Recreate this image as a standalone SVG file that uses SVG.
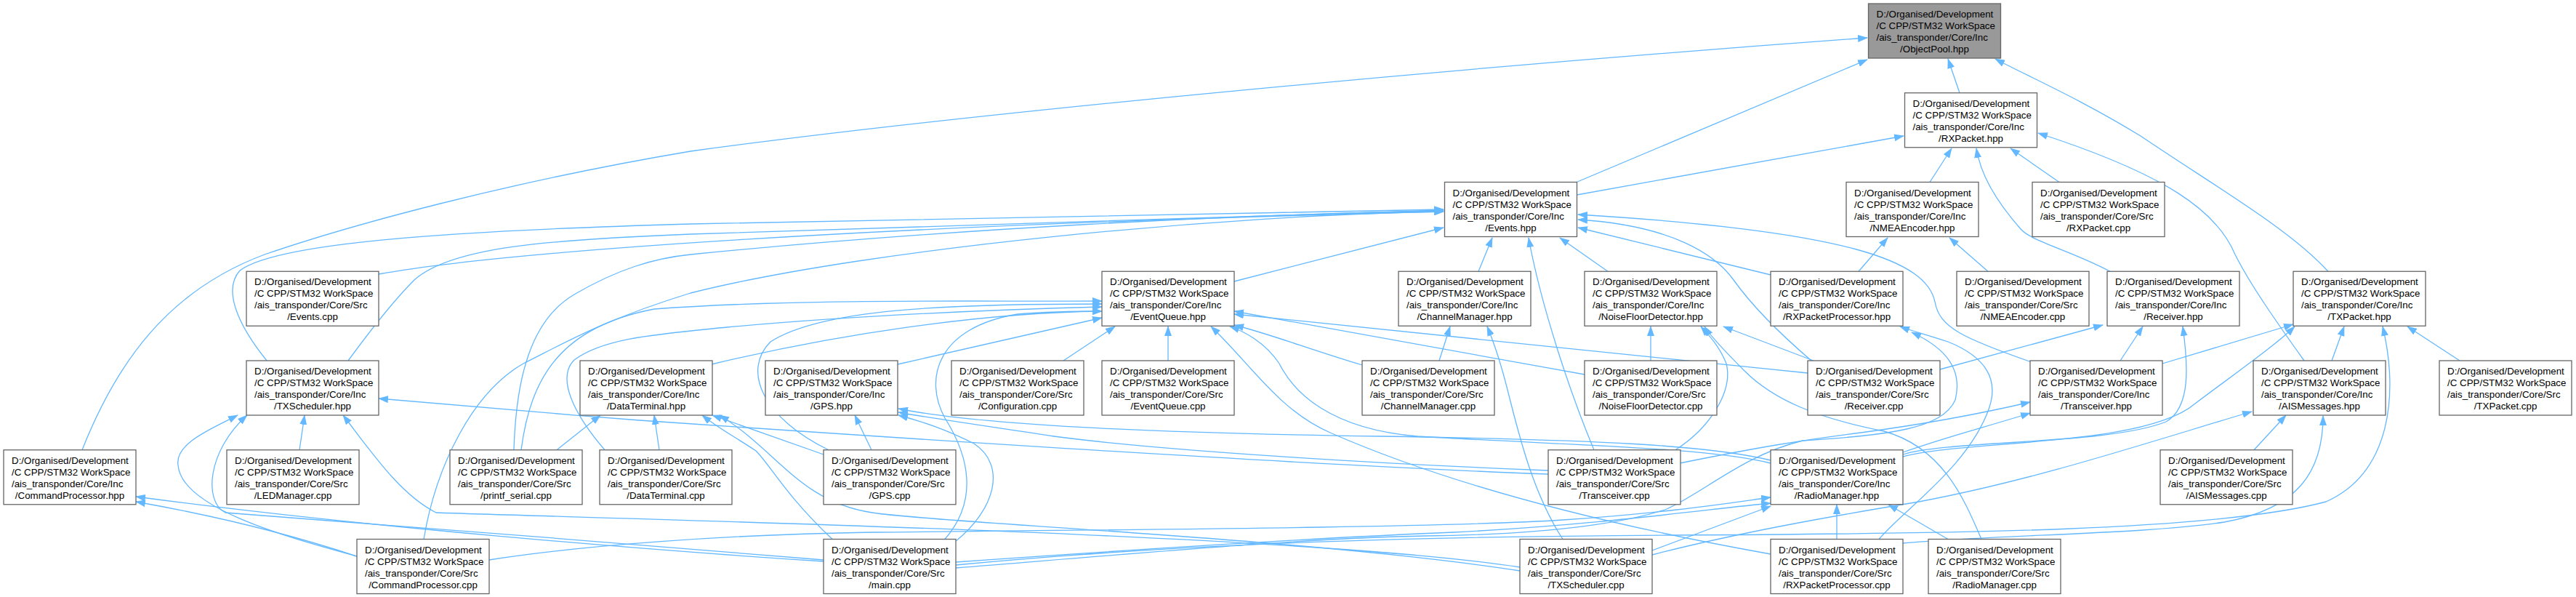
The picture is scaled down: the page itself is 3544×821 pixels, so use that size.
<svg xmlns="http://www.w3.org/2000/svg" width="3544" height="821" viewBox="0 0 3544 821">
<style>
.node rect{fill:#fff;stroke:#666;stroke-width:1.3}
.hl rect{fill:#999}
.node text{font-family:"Liberation Sans",Arial,sans-serif;font-size:13.33px;fill:#000}
.c{text-anchor:middle}
#edges path{fill:none;stroke:#63b8ff;stroke-width:1.3;marker-end:url(#ah)}
</style>
<defs>
<marker id="ah" viewBox="0 0 14 10" refX="13" refY="5" markerWidth="14" markerHeight="10" orient="auto" markerUnits="userSpaceOnUse"><path d="M0,0 L14,5 L0,10 z" fill="#63b8ff" stroke="none"/></marker>
</defs>
<rect width="3544" height="821" fill="#fff"/>
<g id="edges">
<path d="M2696,127.75 L2680,81"/>
<path d="M2169,250.5 L2569,82"/>
<path d="M113,618.75 C160,500 230,400 364,350 C480,310 700,250 950,208 C1300,160 1950,97 2569,52"/>
<path d="M3203,373.25 C3150,315 3050,258 2945,187 C2860,135 2790,105 2745,81"/>
<path d="M2169.5,268 L2619,187"/>
<path d="M2655,250.5 L2685,204"/>
<path d="M2833,250.5 L2766,204"/>
<path d="M2903,373.25 C2850,345 2795,332 2780,315 C2745,275 2725,240 2719,204"/>
<path d="M3170,496 C3130,440 3095,390 3075,350 C3050,290 2980,240 2804,183"/>
<path d="M2735,373.25 L2682,327"/>
<path d="M2557,373.25 L2597,327"/>
<path d="M521,377 C700,345 1200,310 1986,291"/>
<path d="M367,496 C330,450 305,400 330,372 C380,335 600,318 950,308 C1400,297 1800,290 1986,288"/>
<path d="M479,496 C520,440 545,410 570,385 C620,340 750,330 950,322 C1400,305 1800,292 1986,289"/>
<path d="M707,618.75 C710,520 730,440 790,405 C850,370 900,355 950,350 C1300,315 1700,295 1986,290"/>
<path d="M583,741.5 C600,640 650,540 720,500 C780,470 830,440 950,403 C1200,340 1700,295 1986,291"/>
<path d="M1698,387 L1986,313"/>
<path d="M2034,373.25 L2053,327"/>
<path d="M2193,618.75 C2160,540 2120,420 2103,327"/>
<path d="M2212,373.25 L2146,327"/>
<path d="M2436,378 L2171,313"/>
<path d="M2492,496 C2450,460 2410,420 2385,385 C2360,350 2300,310 2171,302"/>
<path d="M2795,498 C2700,465 2668,450 2662,415 C2650,360 2550,318 2171,295"/>
<path d="M2669,508 L2893,447"/>
<path d="M2917,496 L2948,449"/>
<path d="M2618,625 C2680,605 2900,612 2980,580 C3015,560 3010,500 3003,449"/>
<path d="M2975,500 L3155,446"/>
<path d="M2618,628 C2700,605 2950,615 3020,555 C3080,510 3130,475 3157,449"/>
<path d="M3208,496 L3225,449"/>
<path d="M3384,496 L3312,449"/>
<path d="M2618,747 C2750,735 2950,735 3060,718 C3160,700 3196,650 3196,572"/>
<path d="M1315,777 C1600,750 1900,738 2300,736 C2700,734 3050,730 3200,690 C3290,650 3300,540 3278,449"/>
<path d="M1315,781 C1600,758 1800,740 1960,737 C2150,735 2250,715 2293,700 C2340,680 2400,625 2480,606 C2600,598 2672,590 2690,550 C2700,510 2680,480 2630,457"/>
<path d="M412,618.75 L419,571"/>
<path d="M491,765 C400,740 250,700 245,640 C240,610 290,590 327,571"/>
<path d="M1133,770 C900,750 500,720 310,705 C280,690 285,620 340,571"/>
<path d="M2091,780 C1800,735 900,715 600,705 C550,680 510,620 472,571"/>
<path d="M2130,652 C1800,640 1200,600 880,578 C750,568 600,555 521,548"/>
<path d="M491,765 C400,735 300,710 187,690"/>
<path d="M1133,772 C900,757 500,725 187,683"/>
<path d="M673,770 C800,750 1000,735 1200,732 C1600,728 2000,725 2150,715 C2300,705 2390,690 2436,684"/>
<path d="M1315,773 C1500,760 1800,740 2000,732 C2200,722 2350,700 2436,692"/>
<path d="M2273,757 L2436,696"/>
<path d="M2273,763 C2400,730 2550,705 2640,690 C2800,660 2950,610 3098,566"/>
<path d="M2527,741.5 L2527,694"/>
<path d="M2680,741.5 L2598,694"/>
<path d="M2150,741.5 C2110,680 2090,600 2075,540 C2065,500 2055,470 2046,449"/>
<path d="M2305,618.75 C2350,590 2385,540 2375,500 C2365,475 2350,460 2340,449"/>
<path d="M2271,496 L2271,449"/>
<path d="M2495,496 L2371,449"/>
<path d="M2726,741.5 C2700,680 2670,615 2592,593 C2500,575 2440,550 2400,510 C2380,490 2355,465 2345,449"/>
<path d="M1980,496 L1995,449"/>
<path d="M1874,502 C1800,480 1750,460 1698,447"/>
<path d="M2180,515 L1698,428"/>
<path d="M2487,513 L1698,432"/>
<path d="M2436,637 C2350,615 2150,612 1950,600 C1830,590 1780,540 1760,500 C1740,470 1710,455 1692,449"/>
<path d="M2436,762 C2200,720 1990,665 1830,595 C1760,565 1720,500 1666,449"/>
<path d="M1607,496 L1607,449"/>
<path d="M1463,496 L1534,449"/>
<path d="M979,501 C1150,460 1350,430 1516,428"/>
<path d="M1235,501 L1516,437"/>
<path d="M1140,618.75 C1050,575 1020,510 1060,470 C1130,425 1300,418 1516,418"/>
<path d="M1300,741.5 C1345,690 1335,630 1300,575 C1270,520 1290,450 1400,432 C1450,428 1490,428 1516,428"/>
<path d="M717,618.75 C730,520 770,450 900,425 C1100,410 1350,415 1516,414"/>
<path d="M832,618.75 C790,570 765,520 790,495 C830,465 900,460 1000,450 C1200,432 1400,425 1516,422"/>
<path d="M1199,618.75 L1176,571"/>
<path d="M1314,745 C1370,700 1385,640 1340,610 C1300,590 1270,580 1236,571"/>
<path d="M2436,633 C2350,612 2200,605 1900,600 C1600,596 1350,585 1236,562"/>
<path d="M2130,647 C1900,638 1600,620 1450,600 C1350,585 1280,575 1236,567"/>
<path d="M766,618.75 L826,571"/>
<path d="M907,618.75 L900,571"/>
<path d="M1133,625 L980,571"/>
<path d="M1145,741.5 C1080,680 1060,640 1040,620 C1010,600 990,590 966,571"/>
<path d="M2091,785 C1800,740 1300,720 1200,705 C1100,690 1070,620 990,571"/>
<path d="M2311,637 C2420,615 2480,605 2560,595 C2650,583 2720,570 2793,553"/>
<path d="M2618,622 C2680,600 2740,585 2793,568"/>
<path d="M3101,618.75 L3145,571"/>
<path d="M2585,741.5 C2620,700 2710,640 2737,560 C2750,520 2730,490 2680,470 C2650,460 2630,455 2614,449"/>
</g>
<g id="n-objectpool-hpp" class="node hl"><rect x="2570.5" y="5" width="182" height="75"/><text x="2581.5" y="24">D:/Organised/Development<tspan x="2581.5" dy="16">/C CPP/STM32 WorkSpace</tspan><tspan x="2581.5" dy="16">/ais_transponder/Core/Inc</tspan><tspan class="c" x="2661.5" dy="16">/ObjectPool.hpp</tspan></text></g>
<g id="n-rxpacket-hpp" class="node"><rect x="2620.5" y="127.75" width="182" height="75"/><text x="2631.5" y="146.75">D:/Organised/Development<tspan x="2631.5" dy="16">/C CPP/STM32 WorkSpace</tspan><tspan x="2631.5" dy="16">/ais_transponder/Core/Inc</tspan><tspan class="c" x="2711.5" dy="16">/RXPacket.hpp</tspan></text></g>
<g id="n-events-hpp" class="node"><rect x="1987.5" y="250.5" width="182" height="75"/><text x="1998.5" y="269.5">D:/Organised/Development<tspan x="1998.5" dy="16">/C CPP/STM32 WorkSpace</tspan><tspan x="1998.5" dy="16">/ais_transponder/Core/Inc</tspan><tspan class="c" x="2078.5" dy="16">/Events.hpp</tspan></text></g>
<g id="n-nmeaencoder-hpp" class="node"><rect x="2540" y="250.5" width="182" height="75"/><text x="2551" y="269.5">D:/Organised/Development<tspan x="2551" dy="16">/C CPP/STM32 WorkSpace</tspan><tspan x="2551" dy="16">/ais_transponder/Core/Inc</tspan><tspan class="c" x="2631" dy="16">/NMEAEncoder.hpp</tspan></text></g>
<g id="n-rxpacket-cpp" class="node"><rect x="2796" y="250.5" width="182" height="75"/><text x="2807" y="269.5">D:/Organised/Development<tspan x="2807" dy="16">/C CPP/STM32 WorkSpace</tspan><tspan x="2807" dy="16">/ais_transponder/Core/Src</tspan><tspan class="c" x="2887" dy="16">/RXPacket.cpp</tspan></text></g>
<g id="n-events-cpp" class="node"><rect x="339" y="373.25" width="182" height="75"/><text x="350" y="392.25">D:/Organised/Development<tspan x="350" dy="16">/C CPP/STM32 WorkSpace</tspan><tspan x="350" dy="16">/ais_transponder/Core/Src</tspan><tspan class="c" x="430" dy="16">/Events.cpp</tspan></text></g>
<g id="n-eventqueue-hpp" class="node"><rect x="1516" y="373.25" width="182" height="75"/><text x="1527" y="392.25">D:/Organised/Development<tspan x="1527" dy="16">/C CPP/STM32 WorkSpace</tspan><tspan x="1527" dy="16">/ais_transponder/Core/Inc</tspan><tspan class="c" x="1607" dy="16">/EventQueue.hpp</tspan></text></g>
<g id="n-channelmanager-hpp" class="node"><rect x="1924" y="373.25" width="182" height="75"/><text x="1935" y="392.25">D:/Organised/Development<tspan x="1935" dy="16">/C CPP/STM32 WorkSpace</tspan><tspan x="1935" dy="16">/ais_transponder/Core/Inc</tspan><tspan class="c" x="2015" dy="16">/ChannelManager.hpp</tspan></text></g>
<g id="n-noisefloordetector-hpp" class="node"><rect x="2180" y="373.25" width="182" height="75"/><text x="2191" y="392.25">D:/Organised/Development<tspan x="2191" dy="16">/C CPP/STM32 WorkSpace</tspan><tspan x="2191" dy="16">/ais_transponder/Core/Inc</tspan><tspan class="c" x="2271" dy="16">/NoiseFloorDetector.hpp</tspan></text></g>
<g id="n-rxpacketprocessor-hpp" class="node"><rect x="2436" y="373.25" width="182" height="75"/><text x="2447" y="392.25">D:/Organised/Development<tspan x="2447" dy="16">/C CPP/STM32 WorkSpace</tspan><tspan x="2447" dy="16">/ais_transponder/Core/Inc</tspan><tspan class="c" x="2527" dy="16">/RXPacketProcessor.hpp</tspan></text></g>
<g id="n-nmeaencoder-cpp" class="node"><rect x="2692" y="373.25" width="182" height="75"/><text x="2703" y="392.25">D:/Organised/Development<tspan x="2703" dy="16">/C CPP/STM32 WorkSpace</tspan><tspan x="2703" dy="16">/ais_transponder/Core/Src</tspan><tspan class="c" x="2783" dy="16">/NMEAEncoder.cpp</tspan></text></g>
<g id="n-receiver-hpp" class="node"><rect x="2899" y="373.25" width="182" height="75"/><text x="2910" y="392.25">D:/Organised/Development<tspan x="2910" dy="16">/C CPP/STM32 WorkSpace</tspan><tspan x="2910" dy="16">/ais_transponder/Core/Inc</tspan><tspan class="c" x="2990" dy="16">/Receiver.hpp</tspan></text></g>
<g id="n-txpacket-hpp" class="node"><rect x="3155" y="373.25" width="182" height="75"/><text x="3166" y="392.25">D:/Organised/Development<tspan x="3166" dy="16">/C CPP/STM32 WorkSpace</tspan><tspan x="3166" dy="16">/ais_transponder/Core/Inc</tspan><tspan class="c" x="3246" dy="16">/TXPacket.hpp</tspan></text></g>
<g id="n-txscheduler-hpp" class="node"><rect x="339" y="496" width="182" height="75"/><text x="350" y="515">D:/Organised/Development<tspan x="350" dy="16">/C CPP/STM32 WorkSpace</tspan><tspan x="350" dy="16">/ais_transponder/Core/Inc</tspan><tspan class="c" x="430" dy="16">/TXScheduler.hpp</tspan></text></g>
<g id="n-dataterminal-hpp" class="node"><rect x="798" y="496" width="182" height="75"/><text x="809" y="515">D:/Organised/Development<tspan x="809" dy="16">/C CPP/STM32 WorkSpace</tspan><tspan x="809" dy="16">/ais_transponder/Core/Inc</tspan><tspan class="c" x="889" dy="16">/DataTerminal.hpp</tspan></text></g>
<g id="n-gps-hpp" class="node"><rect x="1053" y="496" width="182" height="75"/><text x="1064" y="515">D:/Organised/Development<tspan x="1064" dy="16">/C CPP/STM32 WorkSpace</tspan><tspan x="1064" dy="16">/ais_transponder/Core/Inc</tspan><tspan class="c" x="1144" dy="16">/GPS.hpp</tspan></text></g>
<g id="n-configuration-cpp" class="node"><rect x="1309" y="496" width="182" height="75"/><text x="1320" y="515">D:/Organised/Development<tspan x="1320" dy="16">/C CPP/STM32 WorkSpace</tspan><tspan x="1320" dy="16">/ais_transponder/Core/Src</tspan><tspan class="c" x="1400" dy="16">/Configuration.cpp</tspan></text></g>
<g id="n-eventqueue-cpp" class="node"><rect x="1516" y="496" width="182" height="75"/><text x="1527" y="515">D:/Organised/Development<tspan x="1527" dy="16">/C CPP/STM32 WorkSpace</tspan><tspan x="1527" dy="16">/ais_transponder/Core/Src</tspan><tspan class="c" x="1607" dy="16">/EventQueue.cpp</tspan></text></g>
<g id="n-channelmanager-cpp" class="node"><rect x="1874" y="496" width="182" height="75"/><text x="1885" y="515">D:/Organised/Development<tspan x="1885" dy="16">/C CPP/STM32 WorkSpace</tspan><tspan x="1885" dy="16">/ais_transponder/Core/Src</tspan><tspan class="c" x="1965" dy="16">/ChannelManager.cpp</tspan></text></g>
<g id="n-noisefloordetector-cpp" class="node"><rect x="2180" y="496" width="182" height="75"/><text x="2191" y="515">D:/Organised/Development<tspan x="2191" dy="16">/C CPP/STM32 WorkSpace</tspan><tspan x="2191" dy="16">/ais_transponder/Core/Src</tspan><tspan class="c" x="2271" dy="16">/NoiseFloorDetector.cpp</tspan></text></g>
<g id="n-receiver-cpp" class="node"><rect x="2487" y="496" width="182" height="75"/><text x="2498" y="515">D:/Organised/Development<tspan x="2498" dy="16">/C CPP/STM32 WorkSpace</tspan><tspan x="2498" dy="16">/ais_transponder/Core/Src</tspan><tspan class="c" x="2578" dy="16">/Receiver.cpp</tspan></text></g>
<g id="n-transceiver-hpp" class="node"><rect x="2793" y="496" width="182" height="75"/><text x="2804" y="515">D:/Organised/Development<tspan x="2804" dy="16">/C CPP/STM32 WorkSpace</tspan><tspan x="2804" dy="16">/ais_transponder/Core/Inc</tspan><tspan class="c" x="2884" dy="16">/Transceiver.hpp</tspan></text></g>
<g id="n-aismessages-hpp" class="node"><rect x="3100" y="496" width="182" height="75"/><text x="3111" y="515">D:/Organised/Development<tspan x="3111" dy="16">/C CPP/STM32 WorkSpace</tspan><tspan x="3111" dy="16">/ais_transponder/Core/Inc</tspan><tspan class="c" x="3191" dy="16">/AISMessages.hpp</tspan></text></g>
<g id="n-txpacket-cpp" class="node"><rect x="3356" y="496" width="182" height="75"/><text x="3367" y="515">D:/Organised/Development<tspan x="3367" dy="16">/C CPP/STM32 WorkSpace</tspan><tspan x="3367" dy="16">/ais_transponder/Core/Src</tspan><tspan class="c" x="3447" dy="16">/TXPacket.cpp</tspan></text></g>
<g id="n-commandprocessor-hpp" class="node"><rect x="5" y="618.75" width="182" height="75"/><text x="16" y="637.75">D:/Organised/Development<tspan x="16" dy="16">/C CPP/STM32 WorkSpace</tspan><tspan x="16" dy="16">/ais_transponder/Core/Inc</tspan><tspan class="c" x="96" dy="16">/CommandProcessor.hpp</tspan></text></g>
<g id="n-ledmanager-cpp" class="node"><rect x="312" y="618.75" width="182" height="75"/><text x="323" y="637.75">D:/Organised/Development<tspan x="323" dy="16">/C CPP/STM32 WorkSpace</tspan><tspan x="323" dy="16">/ais_transponder/Core/Src</tspan><tspan class="c" x="403" dy="16">/LEDManager.cpp</tspan></text></g>
<g id="n-printf-serial-cpp" class="node"><rect x="619" y="618.75" width="182" height="75"/><text x="630" y="637.75">D:/Organised/Development<tspan x="630" dy="16">/C CPP/STM32 WorkSpace</tspan><tspan x="630" dy="16">/ais_transponder/Core/Src</tspan><tspan class="c" x="710" dy="16">/printf_serial.cpp</tspan></text></g>
<g id="n-dataterminal-cpp" class="node"><rect x="825" y="618.75" width="182" height="75"/><text x="836" y="637.75">D:/Organised/Development<tspan x="836" dy="16">/C CPP/STM32 WorkSpace</tspan><tspan x="836" dy="16">/ais_transponder/Core/Src</tspan><tspan class="c" x="916" dy="16">/DataTerminal.cpp</tspan></text></g>
<g id="n-gps-cpp" class="node"><rect x="1133" y="618.75" width="182" height="75"/><text x="1144" y="637.75">D:/Organised/Development<tspan x="1144" dy="16">/C CPP/STM32 WorkSpace</tspan><tspan x="1144" dy="16">/ais_transponder/Core/Src</tspan><tspan class="c" x="1224" dy="16">/GPS.cpp</tspan></text></g>
<g id="n-transceiver-cpp" class="node"><rect x="2130" y="618.75" width="182" height="75"/><text x="2141" y="637.75">D:/Organised/Development<tspan x="2141" dy="16">/C CPP/STM32 WorkSpace</tspan><tspan x="2141" dy="16">/ais_transponder/Core/Src</tspan><tspan class="c" x="2221" dy="16">/Transceiver.cpp</tspan></text></g>
<g id="n-radiomanager-hpp" class="node"><rect x="2436" y="618.75" width="182" height="75"/><text x="2447" y="637.75">D:/Organised/Development<tspan x="2447" dy="16">/C CPP/STM32 WorkSpace</tspan><tspan x="2447" dy="16">/ais_transponder/Core/Inc</tspan><tspan class="c" x="2527" dy="16">/RadioManager.hpp</tspan></text></g>
<g id="n-aismessages-cpp" class="node"><rect x="2972" y="618.75" width="182" height="75"/><text x="2983" y="637.75">D:/Organised/Development<tspan x="2983" dy="16">/C CPP/STM32 WorkSpace</tspan><tspan x="2983" dy="16">/ais_transponder/Core/Src</tspan><tspan class="c" x="3063" dy="16">/AISMessages.cpp</tspan></text></g>
<g id="n-commandprocessor-cpp" class="node"><rect x="491" y="741.5" width="182" height="75"/><text x="502" y="760.5">D:/Organised/Development<tspan x="502" dy="16">/C CPP/STM32 WorkSpace</tspan><tspan x="502" dy="16">/ais_transponder/Core/Src</tspan><tspan class="c" x="582" dy="16">/CommandProcessor.cpp</tspan></text></g>
<g id="n-main-cpp" class="node"><rect x="1133" y="741.5" width="182" height="75"/><text x="1144" y="760.5">D:/Organised/Development<tspan x="1144" dy="16">/C CPP/STM32 WorkSpace</tspan><tspan x="1144" dy="16">/ais_transponder/Core/Src</tspan><tspan class="c" x="1224" dy="16">/main.cpp</tspan></text></g>
<g id="n-txscheduler-cpp" class="node"><rect x="2091" y="741.5" width="182" height="75"/><text x="2102" y="760.5">D:/Organised/Development<tspan x="2102" dy="16">/C CPP/STM32 WorkSpace</tspan><tspan x="2102" dy="16">/ais_transponder/Core/Src</tspan><tspan class="c" x="2182" dy="16">/TXScheduler.cpp</tspan></text></g>
<g id="n-rxpacketprocessor-cpp" class="node"><rect x="2436" y="741.5" width="182" height="75"/><text x="2447" y="760.5">D:/Organised/Development<tspan x="2447" dy="16">/C CPP/STM32 WorkSpace</tspan><tspan x="2447" dy="16">/ais_transponder/Core/Src</tspan><tspan class="c" x="2527" dy="16">/RXPacketProcessor.cpp</tspan></text></g>
<g id="n-radiomanager-cpp" class="node"><rect x="2653" y="741.5" width="182" height="75"/><text x="2664" y="760.5">D:/Organised/Development<tspan x="2664" dy="16">/C CPP/STM32 WorkSpace</tspan><tspan x="2664" dy="16">/ais_transponder/Core/Src</tspan><tspan class="c" x="2744" dy="16">/RadioManager.cpp</tspan></text></g>
</svg>
